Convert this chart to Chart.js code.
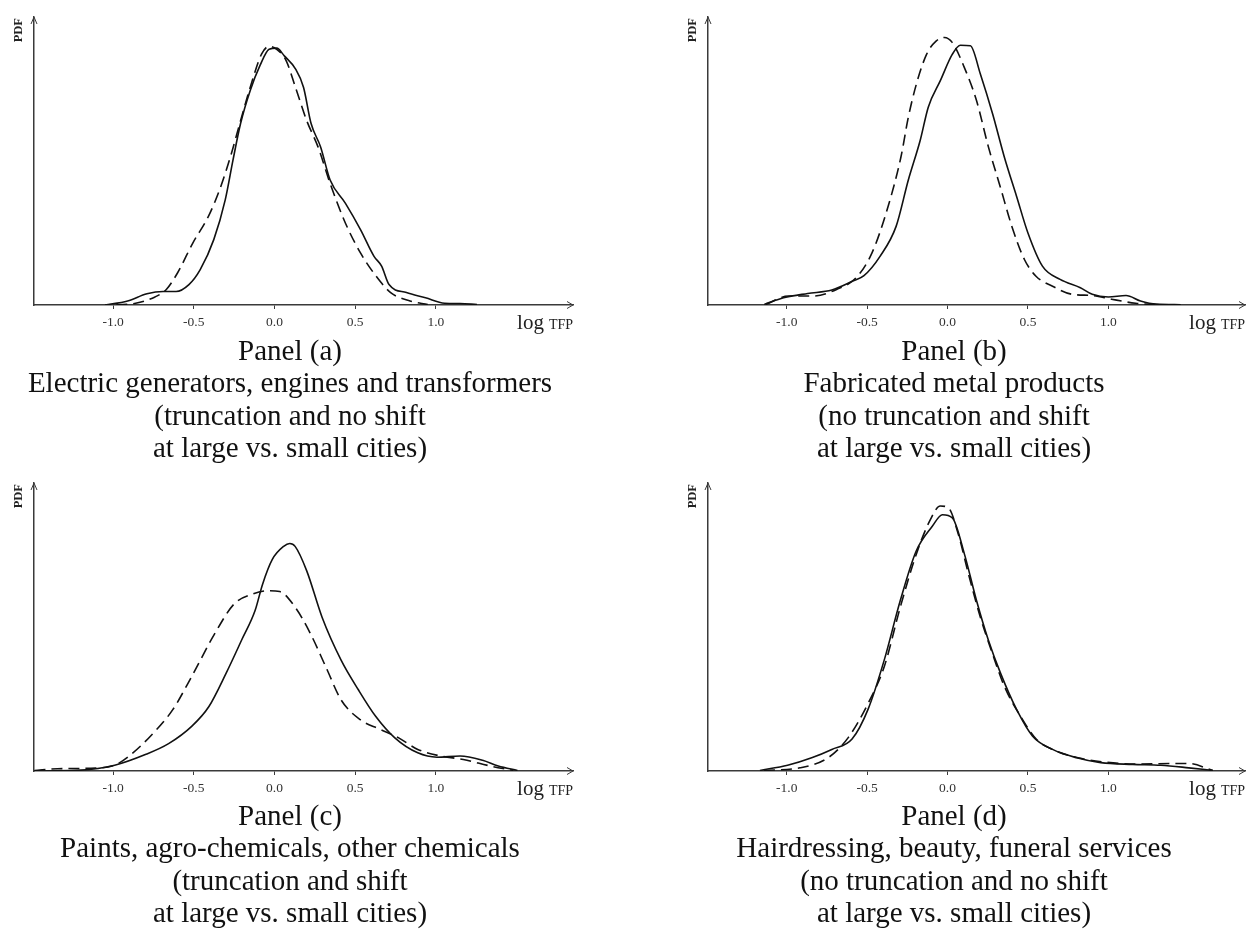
<!DOCTYPE html>
<html>
<head>
<meta charset="utf-8">
<script src="https://cdn.jsdelivr.net/npm/chart.js@4.4.1/dist/chart.umd.min.js"></script>
<style>
  html, body { margin: 0; padding: 0; background: #fff; }
  body { width: 1248px; height: 929px; position: relative; overflow: hidden; font-family: "Liberation Serif", serif; }
  canvas { position: absolute; }
  .cap { position: absolute; text-align: center; font-family: "Liberation Serif", serif; font-size: 29px; line-height: 32.3px; color: #111; white-space: nowrap; }
</style>
</head>
<body>
<canvas id="ca" width="624" height="340" style="left:0;top:0"></canvas>
<canvas id="cb" width="624" height="340" style="left:624px;top:0"></canvas>
<canvas id="cc" width="624" height="340" style="left:0;top:466px"></canvas>
<canvas id="cd" width="624" height="340" style="left:624px;top:466px"></canvas>

<div class="cap" style="left:0;width:580px;top:334px">Panel (a)<br>Electric generators, engines and transformers<br>(truncation and no shift<br>at large vs. small cities)</div>
<div class="cap" style="left:660px;width:588px;top:334px">Panel (b)<br>Fabricated metal products<br>(no truncation and shift<br>at large vs. small cities)</div>
<div class="cap" style="left:0;width:580px;top:799px">Panel (c)<br>Paints, agro-chemicals, other chemicals<br>(truncation and shift<br>at large vs. small cities)</div>
<div class="cap" style="left:660px;width:588px;top:799px">Panel (d)<br>Hairdressing, beauty, funeral services<br>(no truncation and no shift<br>at large vs. small cities)</div>

<script>
// ---- tick labels ----
const xTickValues = [-1.0, -0.5, 0.0, 0.5, 1.0];
const xAxisLabel = "log";
const xAxisLabelSmall = "TFP";
const yAxisLabel = "PDF";

// ---- Panel (a) ----
const a_solid_x = [-1.05,-0.91,-0.79,-0.69,-0.61,-0.53,-0.46,-0.376,-0.305,-0.257,-0.21,-0.15,-0.09,-0.033,0.014,0.061,0.13,0.18,0.227,0.286,0.345,0.44,0.534,0.617,0.664,0.71,0.818,0.936,1.054,1.15,1.255];
const a_solid_y = [0,0.014,0.039,0.047,0.047,0.071,0.123,0.227,0.365,0.503,0.63,0.745,0.831,0.888,0.892,0.865,0.82,0.756,0.63,0.549,0.434,0.353,0.261,0.169,0.135,0.071,0.043,0.025,0.006,0.005,0.002];
const a_dash_x = [-0.98,-0.86,-0.74,-0.67,-0.6,-0.506,-0.41,-0.34,-0.27,-0.21,-0.15,-0.08,-0.033,0.014,0.073,0.13,0.2,0.27,0.345,0.44,0.534,0.63,0.72,0.84,0.95];
const a_dash_y = [0,0.006,0.028,0.054,0.112,0.215,0.307,0.4,0.52,0.64,0.756,0.871,0.898,0.888,0.848,0.756,0.64,0.549,0.422,0.284,0.18,0.1,0.043,0.014,0.002];

// ---- Panel (b) ----
const b_solid_x = [-1.14,-1.02,-0.87,-0.72,-0.59,-0.52,-0.42,-0.32,-0.244,-0.17,-0.12,-0.045,0.03,0.08,0.142,0.204,0.28,0.353,0.43,0.5,0.59,0.7,0.826,0.9,1.0,1.11,1.2,1.3,1.45];
const b_solid_y = [0.002,0.025,0.04,0.052,0.083,0.102,0.169,0.273,0.434,0.572,0.687,0.779,0.871,0.902,0.9,0.802,0.664,0.514,0.376,0.25,0.135,0.089,0.06,0.037,0.028,0.033,0.014,0.003,0.001];
const b_dash_x = [-1.13,-0.99,-0.84,-0.69,-0.57,-0.47,-0.37,-0.29,-0.244,-0.194,-0.13,-0.07,-0.02,0.03,0.104,0.18,0.254,0.328,0.4,0.478,0.55,0.65,0.776,0.9,1.02,1.17,1.3];
const b_dash_y = [0.002,0.031,0.031,0.054,0.094,0.181,0.342,0.514,0.652,0.767,0.871,0.917,0.929,0.911,0.825,0.71,0.549,0.41,0.273,0.158,0.1,0.066,0.037,0.033,0.02,0.006,0.001];

// ---- Panel (c) ----
const c_solid_x = [-1.487,-1.23,-0.99,-0.8,-0.656,-0.513,-0.406,-0.3,-0.204,-0.12,-0.074,-0.014,0.057,0.095,0.128,0.2,0.295,0.413,0.52,0.627,0.746,0.888,1.007,1.15,1.29,1.387,1.506];
const c_solid_y = [0,0.002,0.02,0.057,0.095,0.155,0.224,0.339,0.454,0.557,0.648,0.734,0.78,0.79,0.78,0.695,0.534,0.385,0.282,0.19,0.115,0.063,0.048,0.052,0.037,0.017,0.002];
const c_dash_x = [-1.487,-1.344,-1.107,-0.99,-0.9,-0.75,-0.63,-0.513,-0.37,-0.25,-0.133,-0.038,0.033,0.128,0.223,0.318,0.413,0.532,0.65,0.77,0.888,1.03,1.17,1.34,1.48];
const c_dash_y = [0.002,0.008,0.01,0.02,0.052,0.132,0.213,0.328,0.477,0.58,0.615,0.626,0.623,0.569,0.477,0.362,0.247,0.178,0.146,0.115,0.075,0.052,0.04,0.017,0.002];

// ---- Panel (d) ----
const d_solid_x = [-1.167,-0.995,-0.845,-0.72,-0.594,-0.494,-0.394,-0.294,-0.195,-0.095,-0.032,0.03,0.105,0.18,0.254,0.33,0.43,0.529,0.653,0.803,0.953,1.152,1.327,1.5,1.65];
const d_solid_y = [0.002,0.02,0.046,0.075,0.111,0.215,0.385,0.592,0.764,0.85,0.89,0.879,0.753,0.592,0.454,0.339,0.213,0.121,0.075,0.046,0.029,0.023,0.02,0.011,0.002];
const d_dash_x = [-1.142,-0.918,-0.743,-0.619,-0.494,-0.394,-0.294,-0.195,-0.107,-0.045,0.005,0.067,0.13,0.204,0.279,0.354,0.454,0.554,0.678,0.828,0.978,1.177,1.4,1.5,1.65];
const d_dash_y = [0.002,0.011,0.046,0.115,0.235,0.362,0.569,0.752,0.873,0.92,0.914,0.822,0.684,0.534,0.408,0.293,0.19,0.109,0.069,0.044,0.031,0.024,0.026,0.026,0.002];

function pts(xs, ys) { return xs.map((x, i) => ({ x: x, y: ys[i] })); }

const AXIS_COLOR = '#3a3a3a';

const decor = {
  id: 'decor',
  afterDraw(chart) {
    const ctx = chart.ctx;
    const { left, right, top, bottom } = chart.chartArea;
    ctx.save();
    ctx.strokeStyle = AXIS_COLOR;
    ctx.lineWidth = 1;
    ctx.beginPath();
    ctx.moveTo(left - 3, top + 7); ctx.lineTo(left, top); ctx.lineTo(left + 3, top + 7);
    ctx.moveTo(right - 6, bottom - 3.5); ctx.lineTo(right, bottom); ctx.lineTo(right - 6, bottom + 3.5);
    ctx.stroke();
    // x axis label
    ctx.fillStyle = '#222';
    ctx.textBaseline = 'alphabetic';
    ctx.textAlign = 'right';
    ctx.font = '14px "Liberation Serif", serif';
    const wS = ctx.measureText(xAxisLabelSmall).width;
    ctx.fillText(xAxisLabelSmall, right, bottom + 24);
    ctx.font = '21px "Liberation Serif", serif';
    ctx.fillText(xAxisLabel, right - wS - 5, bottom + 24);
    // y axis label
    ctx.translate(left - 15, top);
    ctx.rotate(-Math.PI / 2);
    ctx.textAlign = 'right';
    ctx.textBaseline = 'middle';
    ctx.font = 'bold 12.5px "Liberation Serif", serif';
    ctx.fillText(yAxisLabel, -1, 0);
    ctx.restore();
  }
};

function makeChart(id, solidX, solidY, dashX, dashY, leftW, padRight) {
  new Chart(document.getElementById(id), {
    type: 'line',
    data: {
      datasets: [
        { data: pts(solidX, solidY), borderColor: '#111', borderWidth: 1.6, pointRadius: 0, fill: false, cubicInterpolationMode: 'monotone' },
        { data: pts(dashX, dashY), borderColor: '#111', borderWidth: 1.6, borderDash: [11, 6], pointRadius: 0, fill: false, cubicInterpolationMode: 'monotone' }
      ]
    },
    options: {
      responsive: false,
      animation: false,
      devicePixelRatio: 1,
      layout: { padding: { top: 17, right: padRight, left: 0, bottom: 0 } },
      plugins: { legend: { display: false }, tooltip: { enabled: false } },
      scales: {
        x: {
          type: 'linear', min: -1.49, max: 1.85,
          grid: { display: true, drawOnChartArea: false, drawTicks: true, tickLength: 4, color: AXIS_COLOR, lineWidth: 1 },
          border: { display: true, color: AXIS_COLOR, width: 1.5 },
          afterBuildTicks: s => { s.ticks = xTickValues.map(v => ({ value: v })); },
          ticks: { color: '#333', padding: 5, maxRotation: 0, font: { family: '"Liberation Serif", serif', size: 13.5 }, callback: v => Number(v).toFixed(1) },
          afterFit: s => { s.height = 35; }
        },
        y: {
          min: 0, max: 1,
          grid: { display: false },
          border: { display: true, color: AXIS_COLOR, width: 1.5 },
          ticks: { display: false },
          afterFit: s => { s.width = leftW; }
        }
      }
    },
    plugins: [decor]
  });
}

makeChart('ca', a_solid_x, a_solid_y, a_dash_x, a_dash_y, 34, 51);
makeChart('cb', b_solid_x, b_solid_y, b_dash_x, b_dash_y, 84, 3);
makeChart('cc', c_solid_x, c_solid_y, c_dash_x, c_dash_y, 34, 51);
makeChart('cd', d_solid_x, d_solid_y, d_dash_x, d_dash_y, 84, 3);
</script>
</body>
</html>
